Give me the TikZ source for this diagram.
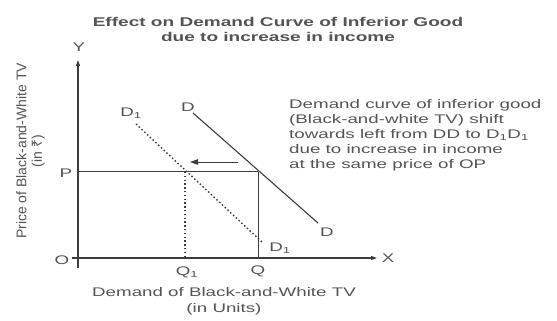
\documentclass[tikz,border=0pt]{standalone}
\usepackage{fontspec}
\setmainfont{Liberation Sans}[FakeStretch=1.5]
\newfontfamily\uprfont{Liberation Sans}
\newfontfamily\rupfont{Noto Sans}
\usetikzlibrary{arrows.meta,positioning,calc}
\definecolor{ink}{RGB}{60,60,60}
\definecolor{txt}{RGB}{84,84,84}
\tikzset{axis/.style={draw=ink,line width=1.1pt},curve/.style={draw=ink,line width=1.1pt},shifted/.style={draw=ink,line width=1.4pt,dash pattern=on 1.5pt off 2.3pt},guide/.style={draw=ink,line width=1pt},lbl/.style={text=txt,font=\fontsize{12.5}{15}\selectfont,inner sep=0pt},move/.style={-{Triangle[length=8pt,width=5.5pt]},draw=ink,line width=0.9pt}}
\begin{document}
\begin{tikzpicture}[x=1pt,y=1pt]
\useasboundingbox (0,0) rectangle (557,321);
\node[lbl,font=\bfseries\fontsize{12.7}{15}\selectfont,align=center] (title) at (278,291.5) {Effect on Demand Curve of Inferior Good\\due to increase in income};
% axes
\coordinate (ybot) at (78,53);\coordinate (ytop) at (78,261);
\coordinate (xleft) at (72,63);\coordinate (xright) at (377,63);
\draw[axis,-{Triangle[length=6pt,width=4pt]}] (ybot)--(ytop);
\draw[axis,-{Triangle[length=6pt,width=4pt]}] (xleft)--(xright);
\node[lbl] (ylab) at (79,274) {Y};
\node[lbl] (xlab) at (388,63) {X};
\node[lbl] (orig) at (62,61) {O};
% price level and quantities
\coordinate (pp) at (78,149);\coordinate (e) at (258,149);\coordinate (e1) at (185,149);
\coordinate (q) at (258,63);\coordinate (q1) at (185,63);
\node[lbl] (plab) at (66,148) {P};
\node[lbl] (qlab) at (258,50) {Q};
\node[lbl] (q1lab) at (187,49) {Q\textsubscript{1}};
\draw[guide] (pp)--(e);\draw[guide] (e)--(q);
\draw[shifted] (e1)--(q1);
% demand curves
\coordinate (dtop) at (193,208);\coordinate (dbot) at (318,98);
\coordinate (d1top) at (136,197);\coordinate (d1bot) at (263,78);
\draw[curve] (dtop)--(dbot);
\draw[shifted] (d1top)--(d1bot);
\node[lbl] (dlab) at (188,214) {D};
\node[lbl] (dlab2) at (327,89) {D};
\node[lbl] (d1lab) at (131,208) {D\textsubscript{1}};
\node[lbl] (d1lab2) at (280,73) {D\textsubscript{1}};
\coordinate (shfrom) at (238,159);\coordinate (shto) at (190,159);
\draw[move] (shfrom)--(shto);
% notes
\node[lbl,anchor=west,align=left] (note) at (289,186) {Demand curve of inferior good\\(Black-and-white TV) shift\\towards left from DD to D\textsubscript{1}D\textsubscript{1}\\due to increase in income\\at the same price of OP};
\node[lbl,align=center,font=\fontsize{12.5}{16}\selectfont] (xtitle) at (224,19.5) {Demand of Black-and-White TV\\(in Units)};
\node[lbl,rotate=90,align=center,font=\uprfont\fontsize{14}{15.5}\selectfont] (ytitle) at (30.5,170) {Price of Black-and-White TV\\(in {\rupfont ₹})};
\end{tikzpicture}
\end{document}
